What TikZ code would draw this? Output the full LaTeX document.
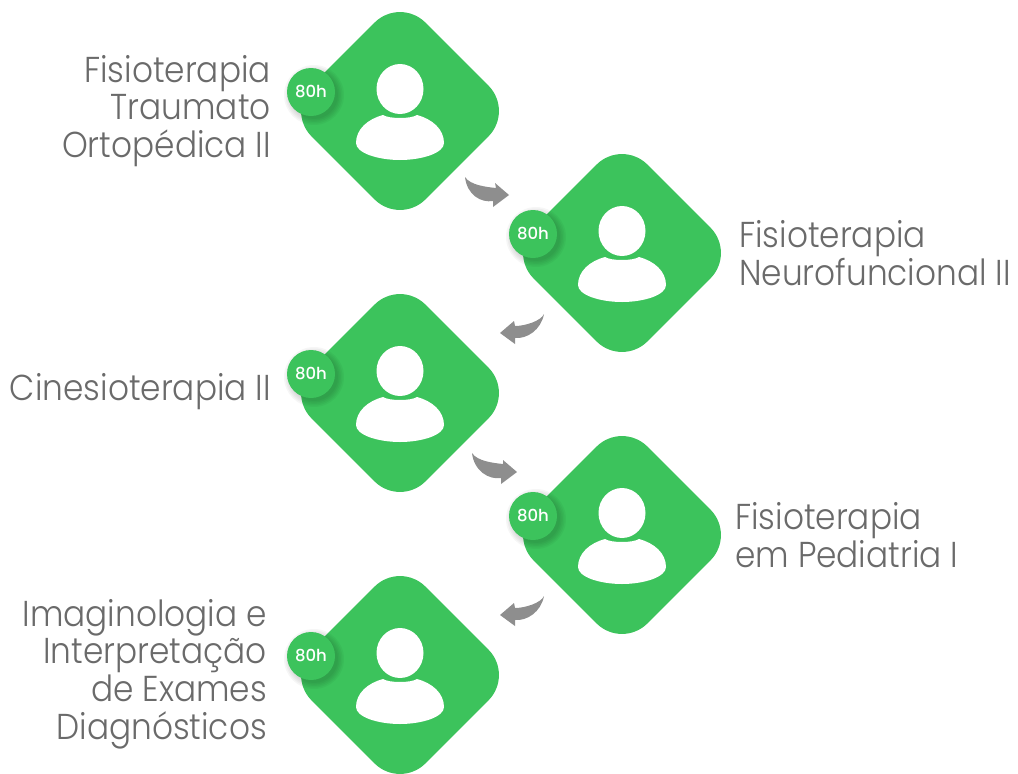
\documentclass[tikz,border=0pt]{standalone}
\usepackage{fontspec}
\setmainfont{Poppins Light}[FakeStretch=0.91]
\newfontfamily\badgefont{Poppins Medium}
\usetikzlibrary{calc}
\definecolor{cardgreen}{HTML}{3CC35C}
\definecolor{flowgray}{HTML}{8E8E8E}
\definecolor{labelgray}{HTML}{6A6A6A}
\tikzset{
  cardbox/.style={rectangle,rotate=45,fill=cardgreen,minimum size=161pt,rounded corners=36pt,inner sep=0pt},
  badgedot/.style={circle,fill=cardgreen,minimum size=48pt,inner sep=0pt,text=white,
    font=\badgefont\fontsize{16.5}{16.5}\selectfont},
  badgeglow/.style={black,opacity=.035},
  lefttext/.style={anchor=east,align=right,inner sep=0pt,text=labelgray,font=\fontsize{36}{37.7}\selectfont},
  righttext/.style={anchor=west,align=left,inner sep=0pt,text=labelgray,font=\fontsize{36}{37.7}\selectfont},
  flowfill/.style={fill=flowgray,draw=none}
}
\begin{document}
\begin{tikzpicture}[x=1pt,y=-1pt]
  \useasboundingbox (0,0) rectangle (1018,774);
  % cards
  \foreach \n/\x/\y in {1/400/111,2/622/253,3/400/393,4/622/535,5/400/675} {
    \node[cardbox] (card\n) at (\x,\y) {};
    \begin{scope}[shift={(card\n)}]
      \fill[white] (0,-22) ellipse (23.5 and 25);
      \fill[white] (-17,4) .. controls (-11,8) and (11,8) .. (17,4)
        .. controls (32,8) and (44,18) .. (44,32)
        .. controls (44,42) and (22,49) .. (0,49)
        .. controls (-22,49) and (-44,42) .. (-44,32)
        .. controls (-44,18) and (-32,8) .. (-17,4) -- cycle;
      \foreach \r in {24,25.5,27,28.5,30}
        \fill[badgeglow] (-86,-16) circle (\r);
    \end{scope}
    \node[badgedot] (badge\n) at ($(card\n)+(-89,-19)$) {80h};
  }
  % labels
  \node[lefttext] (name1) at (271,111) {Fisioterapia\\Traumato\\Ortopédica II};
  \node[righttext] (name2) at (739,253) {Fisioterapia\\Neurofuncional II};
  \node[lefttext] (name3) at (271,392) {Cinesioterapia II};
  \node[righttext] (name4) at (735,535) {Fisioterapia\\em Pediatria I};
  \node[lefttext] (name5) at (267,674) {Imaginologia e\\Interpretação\\de Exames\\Diagnósticos};
  % arrows
  \coordinate (tail1) at ($(card1)+(65,66)$);
  \coordinate (head1) at ($(card2)+(-113,-58)$);
  \coordinate (tail2) at ($(card2)+(-78,61)$);
  \coordinate (head2) at ($(card3)+(100,-60)$);
  \coordinate (tail3) at ($(card3)+(72,60)$);
  \coordinate (head3) at ($(card4)+(-105,-63)$);
  \coordinate (tail4) at ($(card4)+(-78,61)$);
  \coordinate (head4) at ($(card5)+(100,-60)$);
  \foreach \n in {1,3}
    \fill[flowfill] (tail\n) .. controls +(5,8) and +(-10,-1) .. +(31,11)
      -- ($(head\n)+(-14,-12)$) -- (head\n) -- ($(head\n)+(-16,12)$) -- ($(head\n)+(-16,6)$)
      .. controls +(-12,2) and +(2,18) .. (tail\n) -- cycle;
  \foreach \n in {2,4}
    \fill[flowfill] (tail\n) .. controls +(-3,7) and +(10,0) .. +(-29,12)
      -- ($(head\n)+(14,-12)$) -- (head\n) -- ($(head\n)+(15,11)$) -- ($(head\n)+(15,5)$)
      .. controls +(12,1) and +(-3,16) .. (tail\n) -- cycle;
\end{tikzpicture}
\end{document}
